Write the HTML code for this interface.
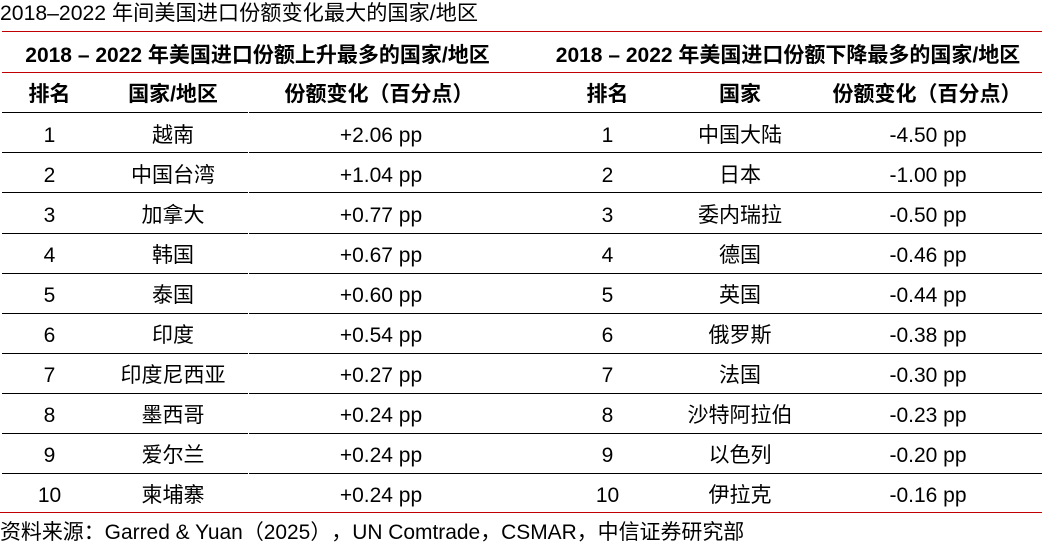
<!DOCTYPE html>
<html><head><meta charset="utf-8"><style>
html,body{margin:0;padding:0;background:#fff;}
body{width:1042px;height:548px;position:relative;overflow:hidden;font-family:"Liberation Sans","Noto Sans CJK SC",sans-serif;color:#000;text-spacing-trim:space-all;}
.t{position:absolute;white-space:nowrap;line-height:40px;height:40px;font-size:21px;text-align:center;text-spacing-trim:space-all;}
.b{font-weight:700;}
.hr{position:absolute;height:1px;}
.red{background:#c00000;}
.blk{background:#000;}
</style></head><body>

<div class="t" style="left:0;top:-6.5px;text-align:left;font-size:21.2px;">2018–2022 年间美国进口份额变化最大的国家/地区</div>

<div class="hr red" style="left:2px;width:1040px;top:31px;"></div>
<div class="t b" style="left:2px;width:511px;top:35.5px;">2018 – 2022 年美国进口份额上升最多的国家/地区</div>
<div class="t b" style="left:534px;width:508px;top:35.5px;">2018 – 2022 年美国进口份额下降最多的国家/地区</div>
<div class="hr red" style="left:2px;width:1040px;top:72px;"></div>

<div class="t b" style="left:0;width:99px;top:75px;">排名</div>
<div class="t b" style="left:98px;width:150px;top:75px;">国家/地区</div>
<div class="t b" style="left:279px;width:200px;top:75px;">份额变化（百分点）</div>
<div class="t b" style="left:557px;width:101px;top:75px;">排名</div>
<div class="t b" style="left:665px;width:150px;top:75px;">国家</div>
<div class="t b" style="left:827px;width:200px;top:75px;">份额变化（百分点）</div>

<!-- lines -->
<div class="hr blk" style="left:2px;width:1040px;top:112px;"></div>
<div class="hr blk" style="left:2px;width:1040px;top:152px;"></div>
<div class="hr blk" style="left:2px;width:1040px;top:192px;"></div>
<div class="hr blk" style="left:2px;width:1040px;top:233px;"></div>
<div class="hr blk" style="left:2px;width:1040px;top:273px;"></div>
<div class="hr blk" style="left:2px;width:1040px;top:313px;"></div>
<div class="hr blk" style="left:2px;width:1040px;top:353px;"></div>
<div class="hr blk" style="left:2px;width:1040px;top:393px;"></div>
<div class="hr blk" style="left:2px;width:1040px;top:433px;"></div>
<div class="hr blk" style="left:2px;width:1040px;top:473px;"></div>
<div style="position:absolute;left:248px;top:110px;width:1px;height:400px;background:#fff;"></div>
<div class="hr red" style="left:0;width:1042px;top:512px;"></div>

<!-- rows -->
<div class="t" style="left:0;width:99px;top:115.5px;">1</div>
<div class="t" style="left:98px;width:150px;top:115.5px;">越南</div>
<div class="t" style="left:250px;width:262px;top:115.5px;">+2.06 pp</div>
<div class="t" style="left:557px;width:101px;top:115.5px;">1</div>
<div class="t" style="left:665px;width:150px;top:115.5px;">中国大陆</div>
<div class="t" style="left:840px;width:176px;top:115.5px;">-4.50 pp</div>

<div class="t" style="left:0;width:99px;top:155.5px;">2</div>
<div class="t" style="left:98px;width:150px;top:155.5px;">中国台湾</div>
<div class="t" style="left:250px;width:262px;top:155.5px;">+1.04 pp</div>
<div class="t" style="left:557px;width:101px;top:155.5px;">2</div>
<div class="t" style="left:665px;width:150px;top:155.5px;">日本</div>
<div class="t" style="left:840px;width:176px;top:155.5px;">-1.00 pp</div>

<div class="t" style="left:0;width:99px;top:195.5px;">3</div>
<div class="t" style="left:98px;width:150px;top:195.5px;">加拿大</div>
<div class="t" style="left:250px;width:262px;top:195.5px;">+0.77 pp</div>
<div class="t" style="left:557px;width:101px;top:195.5px;">3</div>
<div class="t" style="left:665px;width:150px;top:195.5px;">委内瑞拉</div>
<div class="t" style="left:840px;width:176px;top:195.5px;">-0.50 pp</div>

<div class="t" style="left:0;width:99px;top:236px;">4</div>
<div class="t" style="left:98px;width:150px;top:236px;">韩国</div>
<div class="t" style="left:250px;width:262px;top:236px;">+0.67 pp</div>
<div class="t" style="left:557px;width:101px;top:236px;">4</div>
<div class="t" style="left:665px;width:150px;top:236px;">德国</div>
<div class="t" style="left:840px;width:176px;top:236px;">-0.46 pp</div>

<div class="t" style="left:0;width:99px;top:276px;">5</div>
<div class="t" style="left:98px;width:150px;top:276px;">泰国</div>
<div class="t" style="left:250px;width:262px;top:276px;">+0.60 pp</div>
<div class="t" style="left:557px;width:101px;top:276px;">5</div>
<div class="t" style="left:665px;width:150px;top:276px;">英国</div>
<div class="t" style="left:840px;width:176px;top:276px;">-0.44 pp</div>

<div class="t" style="left:0;width:99px;top:316px;">6</div>
<div class="t" style="left:98px;width:150px;top:316px;">印度</div>
<div class="t" style="left:250px;width:262px;top:316px;">+0.54 pp</div>
<div class="t" style="left:557px;width:101px;top:316px;">6</div>
<div class="t" style="left:665px;width:150px;top:316px;">俄罗斯</div>
<div class="t" style="left:840px;width:176px;top:316px;">-0.38 pp</div>

<div class="t" style="left:0;width:99px;top:356px;">7</div>
<div class="t" style="left:98px;width:150px;top:356px;">印度尼西亚</div>
<div class="t" style="left:250px;width:262px;top:356px;">+0.27 pp</div>
<div class="t" style="left:557px;width:101px;top:356px;">7</div>
<div class="t" style="left:665px;width:150px;top:356px;">法国</div>
<div class="t" style="left:840px;width:176px;top:356px;">-0.30 pp</div>

<div class="t" style="left:0;width:99px;top:396px;">8</div>
<div class="t" style="left:98px;width:150px;top:396px;">墨西哥</div>
<div class="t" style="left:250px;width:262px;top:396px;">+0.24 pp</div>
<div class="t" style="left:557px;width:101px;top:396px;">8</div>
<div class="t" style="left:665px;width:150px;top:396px;">沙特阿拉伯</div>
<div class="t" style="left:840px;width:176px;top:396px;">-0.23 pp</div>

<div class="t" style="left:0;width:99px;top:436px;">9</div>
<div class="t" style="left:98px;width:150px;top:436px;">爱尔兰</div>
<div class="t" style="left:250px;width:262px;top:436px;">+0.24 pp</div>
<div class="t" style="left:557px;width:101px;top:436px;">9</div>
<div class="t" style="left:665px;width:150px;top:436px;">以色列</div>
<div class="t" style="left:840px;width:176px;top:436px;">-0.20 pp</div>

<div class="t" style="left:0;width:99px;top:476px;">10</div>
<div class="t" style="left:98px;width:150px;top:476px;">柬埔寨</div>
<div class="t" style="left:250px;width:262px;top:476px;">+0.24 pp</div>
<div class="t" style="left:557px;width:101px;top:476px;">10</div>
<div class="t" style="left:665px;width:150px;top:476px;">伊拉克</div>
<div class="t" style="left:840px;width:176px;top:476px;">-0.16 pp</div>

<div class="t" style="left:0;top:513px;text-align:left;font-size:20.95px;">资料来源：Garred &amp; Yuan（2025），UN Comtrade，CSMAR，中信证券研究部</div>

</body></html>
